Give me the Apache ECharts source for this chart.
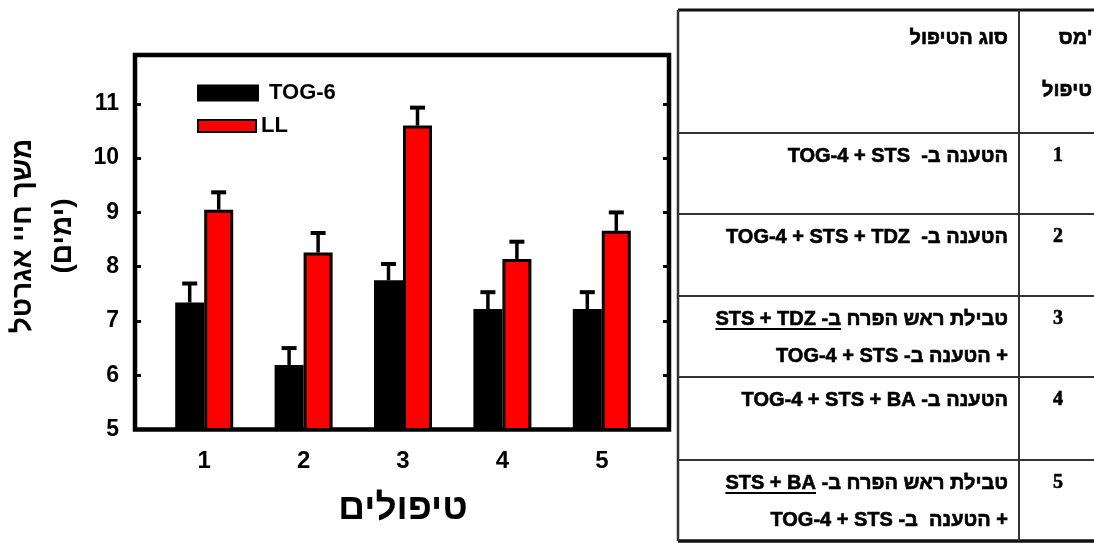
<!DOCTYPE html>
<html lang="he" dir="rtl">
<head>
<meta charset="utf-8">
<script src="https://cdn.jsdelivr.net/npm/echarts@6/dist/echarts.min.js"></script>
<style>
  html, body { margin: 0; padding: 0; background: #fff; }
  #chart { width: 1094px; height: 545px; }
</style>
</head>
<body>
<div id="chart"></div>
<script>
// Vase life (days) per treatment, two cultivars, with standard errors
const categories = ['1', '2', '3', '4', '5'];
const seriesNames = ['TOG-6', 'LL'];
const tog6 = [7.34, 6.19, 7.75, 7.22, 7.22];
const tog6Err = [0.35, 0.31, 0.30, 0.31, 0.31];
const ll = [9.05, 8.26, 10.60, 8.14, 8.66];
const llErr = [0.32, 0.36, 0.33, 0.32, 0.34];
const yMin = 5, yMax = 11.9, yStep = 1;

const yTitle = ['משך חיי אגרטל', '(ימים)'];
const xTitle = 'טיפולים';

// Treatment legend table
const headType = 'סוג הטיפול';
// apostrophe placed first so that it sits at the right end in the RTL layout
const headNum = ["'מס", 'טיפול'];
const treatmentNums = ['1', '2', '3', '4', '5'];
const treatmentLines = [
  ['הטענה ב-  TOG-4 + STS'],
  ['הטענה ב-  TOG-4 + STS + TDZ'],
  ['טבילת ראש הפרח ב- STS + TDZ', '+ הטענה ב- TOG-4 + STS'],
  ['הטענה ב- TOG-4 + STS + BA'],
  ['טבילת ראש הפרח ב- STS + BA', '+ הטענה  ב- TOG-4 + STS']
];
// underlined tail of the first line of a row (drawn at its visual left end)
const underlinedPart = [null, null, 'ב- STS + TDZ', null, 'STS + BA'];

const SANS = '"Liberation Sans", Arial, sans-serif';
const SERIF = '"Liberation Serif", "Times New Roman", serif';
const BAR_W = 29;

const measureCtx = document.createElement('canvas').getContext('2d');
function textWidth(str, font) {
  measureCtx.font = font;
  return measureCtx.measureText(str).width;
}

// table geometry
const T = { left: 678, right: 1100, top: 10, bottom: 541, divX: 1019,
            rowTops: [133, 214, 296, 377, 460], textRight: 1008, numX: 1058 };
const tableFont = 'bold 20px ' + SANS;

const graphics = [];
// y-axis title, rotated
graphics.push({
  type: 'text', x: 43, y: 236, rotation: Math.PI / 2,
  style: { text: yTitle.join('\n'), align: 'center', verticalAlign: 'middle',
           lineHeight: 40, font: 'bold 28px ' + SANS, fill: '#000' }
});
// table frame
const line = (x1, y1, x2, y2, w, c) => ({ type: 'line', shape: { x1, y1, x2, y2 },
  style: { stroke: c || '#222', lineWidth: w } });
graphics.push(line(T.left, T.top, T.right, T.top, 3, '#111'));
graphics.push(line(T.left, T.bottom, T.right, T.bottom, 3.5, '#111'));
graphics.push(line(T.left, T.top, T.left, T.bottom, 2.5, '#333'));
graphics.push(line(T.divX, T.top, T.divX, T.bottom, 2, '#333'));
T.rowTops.forEach(y => graphics.push(line(T.left, y, T.right, y, 2, '#333')));
// header and row texts (slightly stroked for the heavy print look)
const txt = (text, x, y, font, align) => ({ type: 'text', x, y,
  style: { text, font, align: align || 'right', verticalAlign: 'middle', fill: '#000',
           stroke: '#000', lineWidth: 0.6 } });
graphics.push(txt(headType, T.textRight, 38, tableFont));
graphics.push(txt(headNum[0], 1092, 38, tableFont));
graphics.push(txt(headNum[1], 1092, 90, tableFont));
treatmentLines.forEach((lines, i) => {
  const top = T.rowTops[i];
  graphics.push(txt(treatmentNums[i], T.numX, top + 23, 'bold 20px ' + SERIF, 'center'));
  lines.forEach((s, k) => {
    const y = top + 23 + k * 37;
    graphics.push(txt(s, T.textRight, y, tableFont));
    if (k === 0 && underlinedPart[i]) {
      const xl = T.textRight - textWidth(s, tableFont);
      const w = textWidth(underlinedPart[i], tableFont);
      graphics.push(line(xl, y + 10, xl + w, y + 10, 2, '#000'));
    }
  });
});

function errorBars(values, errs, side) {
  return {
    type: 'custom', xAxisIndex: 1, yAxisIndex: 2, z: 3, silent: true,
    data: values.map((v, i) => [i, v, errs[i]]),
    renderItem(params, api) {
      const base = api.coord([api.value(0), api.value(1)]);
      const top = api.coord([api.value(0), api.value(1) + api.value(2)]);
      const x = base[0] + side * BAR_W / 2;
      return { type: 'group', children: [
        { type: 'line', shape: { x1: x, y1: base[1], x2: x, y2: top[1] },
          style: { stroke: '#000', lineWidth: 3.5 } },
        { type: 'line', shape: { x1: x - 7.5, y1: top[1], x2: x + 7.5, y2: top[1] },
          style: { stroke: '#000', lineWidth: 4 } }
      ] };
    }
  };
}

const chart = echarts.init(document.getElementById('chart'), null, { renderer: 'canvas' });
const yLabelFmt = v => (Number.isInteger(v) ? String(v) : '');

chart.setOption({
  animation: false,
  backgroundColor: '#fff',
  textStyle: { fontFamily: SANS },
  grid: [
    { left: 135, top: 55, width: 534, height: 374.5, show: true,
      borderColor: '#000', borderWidth: 4.5, backgroundColor: 'transparent' },
    { left: 154.5, top: 55, width: 497, height: 374.5 }
  ],
  legend: [
    { data: [seriesNames[0]], left: 197, top: 82, padding: 0, icon: 'rect',
      itemWidth: 60, itemHeight: 15,
      textStyle: { fontSize: 22, fontWeight: 'bold', color: '#000', padding: [0, 0, 4, 6] } },
    { data: [seriesNames[1]], left: 197, top: 115, padding: 0, icon: 'rect',
      itemWidth: 58, itemHeight: 12,
      textStyle: { fontSize: 22, fontWeight: 'bold', color: '#000', padding: [6, 0, 0, 0] } }
  ],
  xAxis: [
    { gridIndex: 0, type: 'value', min: 0, max: 1, show: false },
    { gridIndex: 1, type: 'category', data: categories,
      axisLine: { show: false }, axisTick: { show: false },
      axisLabel: { margin: 20, fontSize: 24, fontWeight: 'bold', color: '#000' },
      name: xTitle, nameLocation: 'middle', nameGap: 61,
      nameTextStyle: { fontSize: 37, fontWeight: 'bold', color: '#000' } }
  ],
  yAxis: [
    { gridIndex: 0, type: 'value', position: 'left', min: yMin, max: yMax, interval: yStep,
      axisLine: { show: false }, splitLine: { show: false },
      axisTick: { show: true, inside: true, length: 6, lineStyle: { color: '#000', width: 3 } },
      axisLabel: { margin: 16, fontSize: 23, fontWeight: 'bold', color: '#000', formatter: yLabelFmt } },
    { gridIndex: 0, type: 'value', position: 'right', min: yMin, max: yMax, interval: yStep,
      axisLine: { show: false }, splitLine: { show: false }, axisLabel: { show: false },
      axisTick: { show: true, inside: true, length: 6, lineStyle: { color: '#000', width: 3 } } },
    { gridIndex: 1, type: 'value', min: yMin, max: yMax, show: false, splitLine: { show: false } }
  ],
  series: [
    { name: seriesNames[0], type: 'bar', xAxisIndex: 1, yAxisIndex: 2, data: tog6,
      barWidth: BAR_W, barGap: '0%',
      itemStyle: { color: '#000', borderColor: '#000', borderWidth: 3 } },
    { name: seriesNames[1], type: 'bar', xAxisIndex: 1, yAxisIndex: 2, data: ll,
      barWidth: BAR_W, barGap: '0%',
      itemStyle: { color: '#ff0000', borderColor: '#000', borderWidth: 3 } },
    errorBars(tog6, tog6Err, -1),
    errorBars(ll, llErr, 1)
  ],
  graphic: graphics
});
</script>
</body>
</html>
